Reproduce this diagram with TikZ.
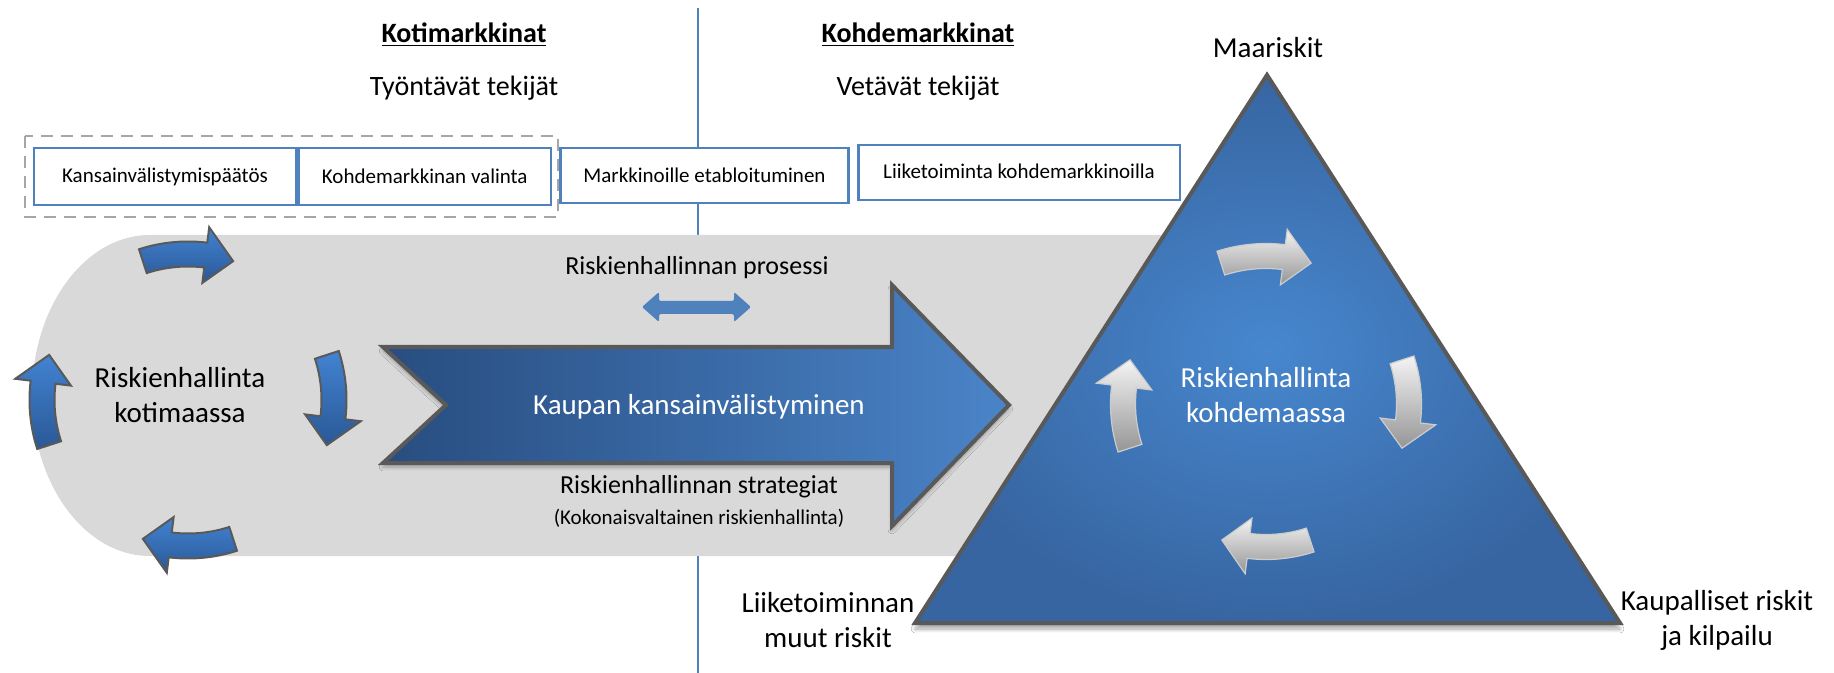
\documentclass[tikz,border=0pt]{standalone}
\usepackage{fontspec}
\setmainfont{Carlito}
\usetikzlibrary{shadows.blur}
\definecolor{linblue}{HTML}{4F81BD}
\definecolor{bandgrey}{HTML}{D9D9D9}
\definecolor{edgegrey}{HTML}{595959}
\definecolor{dashgrey}{HTML}{A6A6A6}
\definecolor{arrowtop}{HTML}{4283D2}
\definecolor{arrowbot}{HTML}{2A5896}
\definecolor{bigleft}{HTML}{284D80}
\definecolor{bigright}{HTML}{4A84C8}
\definecolor{triin}{HTML}{4787CE}
\definecolor{triout}{HTML}{3765A1}
\definecolor{greytop}{HTML}{F4F4F4}
\definecolor{greybot}{HTML}{959595}
\newcommand{\cyclearrow}[5]{%
  \begin{scope}[shift={(#1,#2)}]
    \pgfmathsetmacro{\ta}{#4}
    \pgfmathsetmacro{\ba}{#4+25}
    \pgfmathsetmacro{\pa}{#4+36}
    \pgfmathsetmacro{\Ro}{#3+12.5}
    \pgfmathsetmacro{\Ri}{#3-12.5}
    \pgfmathsetmacro{\Rh}{#3+28}
    \pgfmathsetmacro{\Rhi}{#3-28}
    \path[#5] (\ta:\Ro) arc[start angle=\ta, end angle=\ba, radius=\Ro]
      -- (\ba:\Rh) -- (\pa:#3) -- (\ba:\Rhi) -- (\ba:\Ri)
      arc[start angle=\ba, end angle=\ta, radius=\Ri] -- cycle;
  \end{scope}}
\begin{document}
\begin{tikzpicture}[x=0.5pt,y=-0.5pt,
  stagebox/.style={draw=linblue, line width=1.2pt, fill=white},
  boxtext/.style={font=\fontsize{10.5}{12}\selectfont, inner sep=0pt},
  bigtext/.style={font=\fontsize{14.5}{17.5}\selectfont, align=center, inner sep=0pt},
  headtext/.style={font=\fontsize{14}{17}\selectfont, inner sep=0pt},
  midtext/.style={font=\fontsize{13}{15}\selectfont, inner sep=0pt},
  smalltext/.style={font=\fontsize{10.5}{12}\selectfont, inner sep=0pt},
  bluearrow/.style={draw=edgegrey, line width=1pt, top color=arrowtop, bottom color=arrowbot},
  greyarrow/.style={draw=black!20, line width=0.6pt, top color=greytop, bottom color=greybot}]
\useasboundingbox (0,0) rectangle (1834,673);
\fill[white] (0,0) rectangle (1834,673);

% divider line
\coordinate (divtop) at (698,8);
\coordinate (divbot) at (698,673);
\draw[linblue, line width=1pt] (divtop) -- (divbot);

% grey band
\fill[bandgrey] (1250,235) -- (150,235)
  arc[start angle=270, end angle=90, x radius=118, y radius=160.5]
  -- (1250,556) -- cycle;

% headings
\node[headtext] (kotih) at (464,35) {\underline{\textbf{Kotimarkkinat}}};
\node[headtext] (tyont) at (464,88) {Työntävät tekijät};
\node[headtext] (kohdeh) at (918,35) {\underline{\textbf{Kohdemarkkinat}}};
\node[headtext] (vetav) at (918,88) {Vetävät tekijät};

% stage boxes
\draw[dashgrey, dashed, line width=1pt, dash pattern=on 6pt off 4pt] (24.5,136) rectangle (557.5,217);
\draw[stagebox] (34,148) rectangle (296,205);
\node[boxtext] (b1) at (165,176.5) {Kansainvälistymispäätös};
\draw[stagebox] (298.5,148) rectangle (551,205);
\node[boxtext] (b2) at (424.75,176.5) {Kohdemarkkinan valinta};
\draw[stagebox] (560.5,148) rectangle (848.5,203);
\node[boxtext] (b3) at (704.5,175.5) {Markkinoille etabloituminen};
\draw[stagebox] (858.5,145) rectangle (1180,200);
\node[boxtext] (b4) at (1019,171) {Liiketoiminta kohdemarkkinoilla};

% left cycle arrows
\cyclearrow{188}{400}{146}{252}{bluearrow}
\cyclearrow{188}{400}{146}{-18}{bluearrow}
\cyclearrow{188}{400}{146}{72}{bluearrow}
\cyclearrow{188}{400}{146}{162}{bluearrow}
\node[bigtext] (koti) at (180,395) {Riskienhallinta\\kotimaassa};

% process double arrow
\fill[linblue, rounded corners=1pt] (642,307) -- (659,292) -- (659,301) -- (734,301) -- (734,292)
  -- (751,307) -- (734,322) -- (734,314) -- (659,314) -- (659,322) -- cycle;
\node[midtext] (proc) at (697,268) {Riskienhallinnan prosessi};

% big arrow
\path[draw=edgegrey, line width=2pt, left color=bigleft, right color=bigright,
  blur shadow={shadow xshift=0pt, shadow yshift=-2pt, shadow opacity=30, shadow blur steps=6}]
  (383,347) -- (892,347) -- (892,285) -- (1009,405) -- (892,526) -- (892,463) -- (383,463) -- (446,405) -- cycle;
\node[bigtext, white] (kaupan) at (699,407) {Kaupan kansainvälistyminen};
\node[midtext] (strat) at (699,487) {Riskienhallinnan strategiat};
\node[smalltext] (kokon) at (699,518) {(Kokonaisvaltainen riskienhallinta)};

% triangle
\path[draw=edgegrey, line width=2pt, inner color=triin, outer color=triout,
  blur shadow={shadow xshift=0pt, shadow yshift=-3pt, shadow opacity=35, shadow blur steps=8}]
  (1267,75) -- (1620,623) -- (915,623) -- cycle;
\cyclearrow{1266}{402}{146}{252}{greyarrow}
\cyclearrow{1266}{404}{143}{-18}{greyarrow}
\cyclearrow{1266}{404}{143}{72}{greyarrow}
\cyclearrow{1266}{404}{143}{162}{greyarrow}
\node[bigtext, white] (kohde) at (1266,395) {Riskienhallinta\\kohdemaassa};

% corner labels
\node[bigtext] (maa) at (1268,48) {Maariskit};
\node[bigtext] (muut) at (828,620) {Liiketoiminnan\\muut riskit};
\node[bigtext] (kaup) at (1717,620) {Kaupalliset riskit\\ja kilpailu};
\end{tikzpicture}
\end{document}
